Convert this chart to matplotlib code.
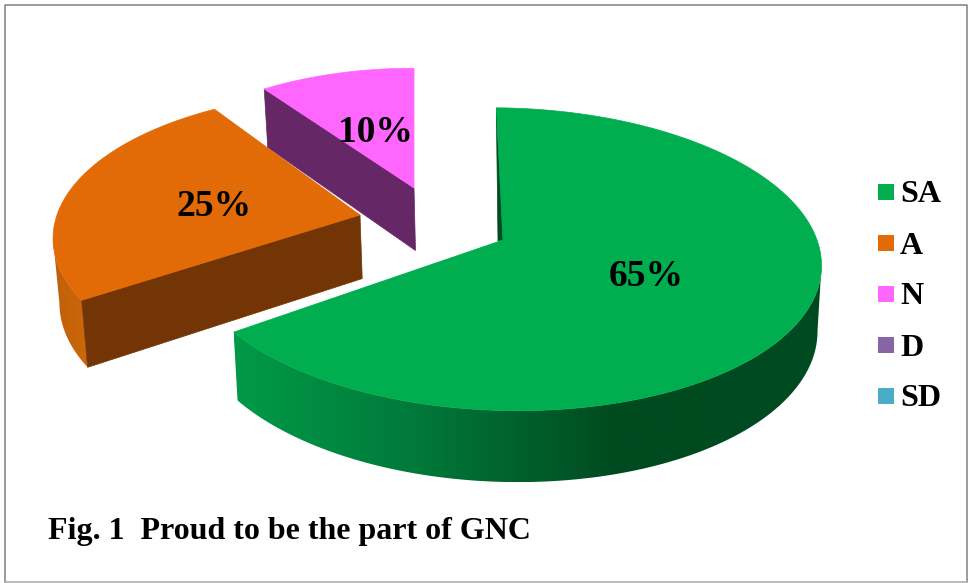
import numpy as np
import matplotlib
matplotlib.use("Agg")
import matplotlib.pyplot as plt
from matplotlib.colors import LinearSegmentedColormap
from matplotlib.patches import Polygon

# datos del grafico
categorias = ["SA", "A", "N", "D", "SD"]
valores = [65, 25, 10, 0, 0]
etiquetas = ["65%", "25%", "10%"]
titulo = "Fig. 1  Proud to be the part of GNC"

colores = ["#00AE50", "#E26B08", "#FF66FF", "#8764A2", "#4BACC6"]
colores_corte = ["#004A22", "#733505", "#652766"]

# layout en pixeles: apice, radios, giro y posicion de la etiqueta de cada sector
apices = [(503, 240), (360, 215), (414, 188)]
radios_x = [314, 303, 281]
radios_y = [149, 143, 135]
giros = [1, 3, 0]
sesgos = [-13, 0, 0]
perspectiva = [0.127, 0.16, 0.127]
pos_etiquetas = [(646, 276), (214, 207), (375, 133)]


def borde(ang, i):
    """Punto del borde superior del sector i para los angulos ang (grados)"""
    t = np.radians(np.asarray(ang, dtype=float) + giros[i])
    s = 1 / (1 + perspectiva[i] * np.cos(t))
    x = apices[i][0] + (radios_x[i] * np.sin(t) + sesgos[i] * np.cos(t)) * s
    y = apices[i][1] - radios_y[i] * np.cos(t) * s
    return x, y


def abajo(x, y):
    """Proyecta un punto de la cara superior a la base del pastel"""
    x = np.asarray(x, dtype=float)
    y = np.asarray(y, dtype=float)
    return x + (525 - x) * 0.0135, y + 55 + 0.04 * y


def pared_gradiente(vx, vy, cmap, zorder):
    """Pared curva rellena con un gradiente horizontal recortado al contorno"""
    wx, wy = abajo(vx, vy)
    contorno = np.column_stack([np.r_[vx, wx[::-1]], np.r_[vy, wy[::-1]]])
    x0, x1 = contorno[:, 0].min(), contorno[:, 0].max()
    y0, y1 = contorno[:, 1].min(), contorno[:, 1].max()
    img = ax.imshow(np.linspace(0, 1, 512).reshape(1, -1), cmap=cmap, aspect="auto",
                    extent=(x0, x1, y1, y0), zorder=zorder, interpolation="bilinear")
    img.set_clip_path(Polygon(contorno, transform=ax.transData))


fig = plt.figure(figsize=(9.69, 5.83), dpi=100)
ax = fig.add_axes([0, 0, 1, 1])
ax.axis("off")

# marco
ax.plot([5, 5, 967, 967], [582, 5, 5, 582], color="#8a8a8a", lw=1.2)
ax.plot([5, 967], [582, 582], color="#b0b0b0", lw=1.2)

limites = np.cumsum([0] + valores) / sum(valores) * 360
grad_verde = LinearSegmentedColormap.from_list(
    "verde", [(0, "#009A48"), (0.3, "#007A3A"), (0.65, "#004A20"), (1, "#004A22")])
grad_naranja = LinearSegmentedColormap.from_list("naranja", ["#C0600A", "#CC680A"])

# se dibuja de atras hacia adelante: N, A, SA
for i in [2, 1, 0]:
    ini, fin = limites[i], limites[i + 1]
    ang = np.linspace(ini, fin, 400)
    bx, by = borde(ang, i)
    ax_, ay_ = apices[i]

    # pared curva exterior: desde el punto extremo del borde hasta el corte
    if i == 0:
        k = np.argmax(bx)
        pared_gradiente(bx[k:], by[k:], grad_verde, 3)
    elif i == 1:
        k = np.argmin(bx)
        pared_gradiente(bx[:k + 1], by[:k + 1], grad_naranja, 2)

    # pared plana del corte
    if i == 0:
        # cara casi de canto junto al inicio del sector
        ax.fill([bx[0], ax_, ax_ - 5], [by[0], ay_, ay_ + 1],
                color=colores_corte[0], lw=0.5, zorder=3)
    else:
        cx, cy = borde(ini, i)
        cx2, cy2 = abajo(cx, cy)
        ax2, ay2 = abajo(ax_, ay_)
        ax.fill([cx, ax_, ax2, cx2], [cy, ay_, ay2, cy2],
                color=colores_corte[i], lw=0.5, zorder=3 - i)

    # cara superior
    ax.fill(np.r_[ax_, bx], np.r_[ay_, by], color=colores[i], lw=0.5, zorder=3.5 - i)

    ax.text(pos_etiquetas[i][0], pos_etiquetas[i][1], etiquetas[i],
            family="Liberation Serif", weight="bold", fontsize=27,
            ha="center", va="center", color="black", zorder=10)

# leyenda
for n, (cat, col) in enumerate(zip(categorias, colores)):
    y = 192 + 51 * n
    ax.fill([878, 894, 894, 878], [y - 8, y - 8, y + 8, y + 8], color=col, lw=0)
    ax.text(900, y + 3, cat, family="Liberation Serif", weight="bold", fontsize=23,
            ha="left", va="center", color="black")

ax.text(48, 539, titulo, family="Liberation Serif", weight="bold", fontsize=23,
        ha="left", va="baseline", color="black")

ax.set_xlim(0, 969)
ax.set_ylim(583, 0)

fig.savefig("out.png", dpi=100)
